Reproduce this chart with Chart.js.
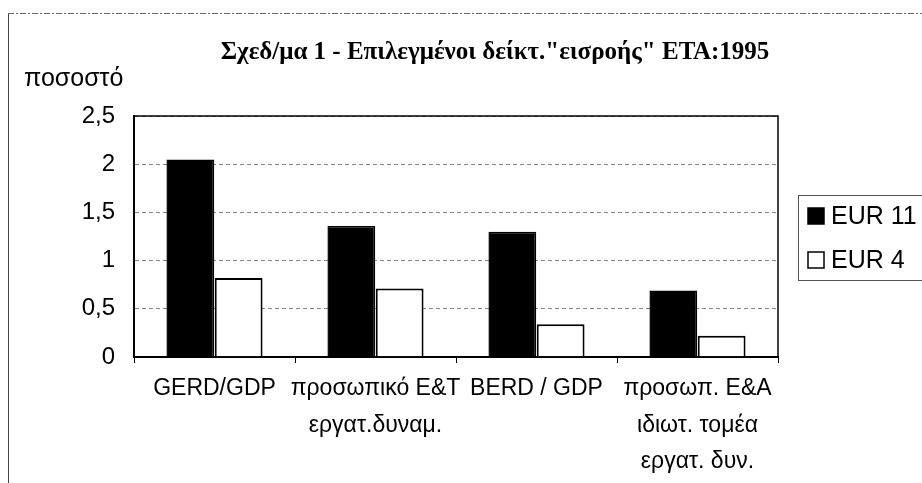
<!DOCTYPE html>
<html>
<head>
<meta charset="utf-8">
<script src="https://cdn.jsdelivr.net/npm/chart.js@4.4.1/dist/chart.umd.min.js"></script>
<style>
  html, body { margin: 0; padding: 0; background: #fff; }
  #wrap { width: 922px; height: 483px; position: relative; }
</style>
</head>
<body>
<div id="wrap"><canvas id="myChart" width="922" height="483"></canvas></div>
<script>
const titleText = 'Σχεδ/μα 1 - Επιλεγμένοι δείκτ."εισροής" ΕΤΑ:1995';
const yTitle = "ποσοστό";
const categories = [
  ["GERD/GDP"],
  ["προσωπικό Ε&Τ", "εργατ.δυναμ."],
  ["BERD / GDP"],
  ["προσωπ. Ε&Α", "ιδιωτ. τομέα", "εργατ. δυν."],
];
const seriesNames = ["EUR 11", "EUR 4"];
const eur11 = [2.05, 1.36, 1.3, 0.69];
const eur4 = [0.82, 0.71, 0.34, 0.22];
const yTicks = [0, 0.5, 1, 1.5, 2, 2.5];

const SANS = "'Liberation Sans', Arial, sans-serif";

// outer frame, title, y title and legend drawn around the plot
const decor = {
  id: "decor",
  beforeDraw: (chart) => {
    const ctx = chart.ctx;
    ctx.save();
    ctx.fillStyle = "#fff";
    ctx.fillRect(0, 0, chart.width, chart.height);
    ctx.strokeStyle = "#444";
    ctx.lineWidth = 1;
    ctx.beginPath();
    ctx.moveTo(8.5, 13);
    ctx.lineTo(8.5, chart.height);
    ctx.stroke();
    ctx.setLineDash([6, 2, 2, 2]);
    ctx.strokeStyle = "#666";
    ctx.beginPath();
    ctx.moveTo(8, 13.5);
    ctx.lineTo(chart.width, 13.5);
    ctx.stroke();
    ctx.restore();
  },
  afterDraw: (chart) => {
    const ctx = chart.ctx;
    ctx.save();
    ctx.fillStyle = "#000";
    ctx.font = "bold 25px 'Liberation Serif', 'Times New Roman', serif";
    ctx.textAlign = "center";
    ctx.textBaseline = "alphabetic";
    ctx.fillText(titleText, 495, 59);

    ctx.font = "25px " + SANS;
    ctx.textAlign = "left";
    ctx.fillText(yTitle, 24, 86);

    // legend box
    ctx.strokeStyle = "#555";
    ctx.lineWidth = 1;
    ctx.strokeRect(798.5, 195.5, 140, 85);
    ctx.font = "25px " + SANS;
    ctx.textBaseline = "middle";
    chart.data.datasets.forEach((ds, i) => {
      const y = 216 + i * 44;
      ctx.fillStyle = ds.backgroundColor;
      ctx.fillRect(808, y - 8, 16, 16);
      ctx.strokeStyle = "#000";
      ctx.lineWidth = 1.5;
      ctx.strokeRect(808, y - 8, 16, 16);
      ctx.fillStyle = "#000";
      ctx.fillText(ds.label, 831, y + 1);
    });
    ctx.restore();
  },
};

const config = {
  type: "bar",
  data: {
    labels: categories,
    datasets: [
      {
        label: seriesNames[0],
        data: eur11,
        backgroundColor: "#000",
        borderColor: "#000",
        borderWidth: 1.5,
      },
      {
        label: seriesNames[1],
        data: eur4,
        backgroundColor: "#fff",
        borderColor: "#000",
        borderWidth: 2,
      },
    ],
  },
  options: {
    responsive: false,
    animation: false,
    layout: { padding: { left: 0, right: 144, top: 116, bottom: 0 } },
    datasets: {
      bar: { categoryPercentage: 0.6, barPercentage: 0.99 },
    },
    scales: {
      x: {
        grid: {
          drawOnChartArea: false,
          drawTicks: true,
          tickLength: 6,
          color: "#000",
        },
        border: { display: true, color: "#000", width: 2 },
        ticks: {
          color: "#000",
          padding: 7,
          maxRotation: 0,
          autoSkip: false,
          font: { family: SANS, size: 23, lineHeight: 1.6 },
        },
        afterFit: (s) => {
          s.height = 126;
        },
      },
      y: {
        min: 0,
        max: 2.5,
        afterBuildTicks: (s) => {
          s.ticks = yTicks.map((v) => ({ value: v }));
        },
        grid: {
          drawTicks: false,
          color: "#888",
          lineWidth: 1,
        },
        // in v4 border.dash also dashes the grid lines
        border: { display: true, color: "#000", width: 2, dash: [4, 3] },
        ticks: {
          color: "#000",
          padding: 19,
          font: { family: SANS, size: 24 },
          callback: (v) => String(v).replace(".", ","),
        },
        afterFit: (s) => {
          s.width = 134;
        },
      },
    },
    plugins: {
      legend: { display: false },
      tooltip: { enabled: false },
    },
  },
  plugins: [
    decor,
    {
      id: "plotBox",
      afterDatasetsDraw: (chart) => {
        const a = chart.chartArea;
        const ctx = chart.ctx;
        ctx.save();
        ctx.strokeStyle = "#000";
        ctx.lineWidth = 1.5;
        ctx.strokeRect(a.left, a.top, a.right - a.left, a.bottom - a.top);
        ctx.restore();
      },
    },
  ],
};

const myChart = new Chart(document.getElementById("myChart"), config);
</script>
</body>
</html>
